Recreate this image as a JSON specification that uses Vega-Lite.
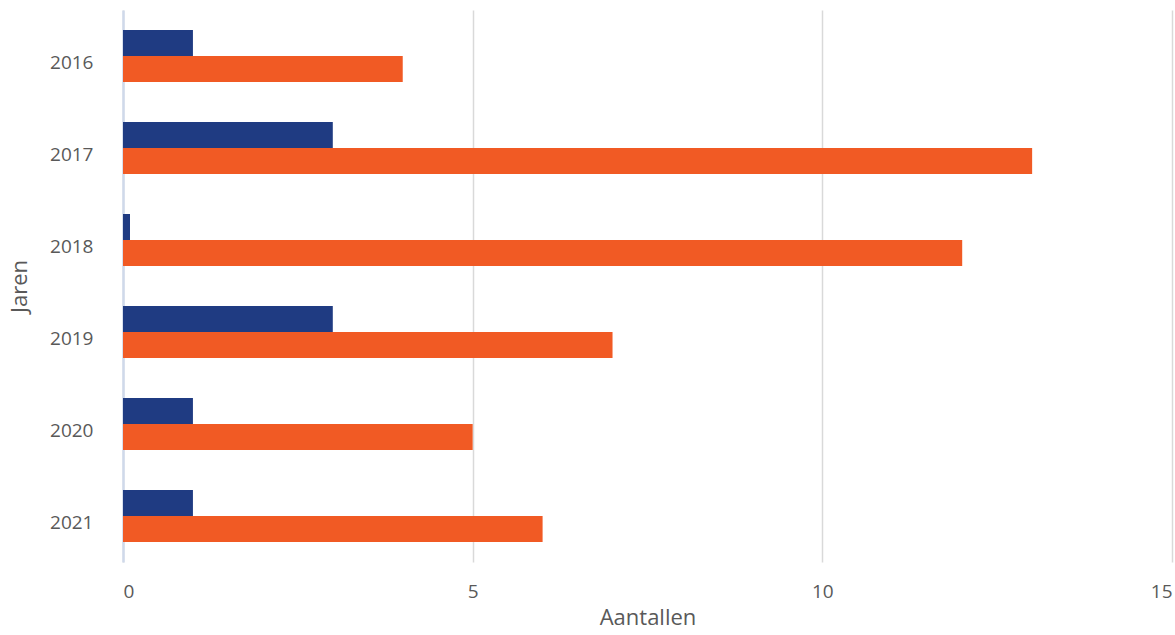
{
  "$schema": "https://vega.github.io/schema/vega-lite/v6.json",
  "autosize": {"type": "none"},
  "padding": {"left": 123, "top": 10, "right": 3, "bottom": 73},
  "width": 1049,
  "height": 552,
  "background": "#ffffff",
  "config": {
    "view": {"stroke": null},
    "font": "Open Sans",
    "axis": {
      "labelColor": "#595959",
      "titleColor": "#595959",
      "labelFontSize": 19,
      "titleFontSize": 22,
      "labelFont": "Open Sans",
      "titleFont": "Open Sans",
      "titleFontWeight": "normal",
      "ticks": false
    }
  },
  "data": {
    "values": [
      {"jaar": "2016", "reeks": "A", "aantal": 1},
      {"jaar": "2016", "reeks": "B", "aantal": 4},
      {"jaar": "2017", "reeks": "A", "aantal": 3},
      {"jaar": "2017", "reeks": "B", "aantal": 13},
      {"jaar": "2018", "reeks": "A", "aantal": 0.1},
      {"jaar": "2018", "reeks": "B", "aantal": 12},
      {"jaar": "2019", "reeks": "A", "aantal": 3},
      {"jaar": "2019", "reeks": "B", "aantal": 7},
      {"jaar": "2020", "reeks": "A", "aantal": 1},
      {"jaar": "2020", "reeks": "B", "aantal": 5},
      {"jaar": "2021", "reeks": "A", "aantal": 1},
      {"jaar": "2021", "reeks": "B", "aantal": 6}
    ]
  },
  "mark": {"type": "bar"},
  "encoding": {
    "y": {
      "field": "jaar",
      "type": "nominal",
      "title": "Jaren",
      "scale": {"paddingInner": 0.435, "paddingOuter": 0.2175},
      "axis": {
        "domainColor": "#CFD9EA",
        "domainWidth": 2.5,
        "labelPadding": 30,
        "labelOffset": 7,
        "titlePadding": 18,
        "grid": false
      }
    },
    "yOffset": {"field": "reeks", "type": "nominal", "scale": {"paddingInner": 0, "paddingOuter": 0}},
    "x": {
      "field": "aantal",
      "type": "quantitative",
      "title": "Aantallen",
      "scale": {"domain": [0, 15], "nice": false},
      "axis": {
        "values": [0, 5, 10, 15],
        "domain": false,
        "grid": true,
        "gridColor": "#D9D9D9",
        "gridWidth": 1.5,
        "labelPadding": 20,
        "titlePadding": 6
      }
    },
    "color": {
      "field": "reeks",
      "type": "nominal",
      "legend": null,
      "scale": {"domain": ["A", "B"], "range": ["#1F3B82", "#F15A24"]}
    }
  }
}
